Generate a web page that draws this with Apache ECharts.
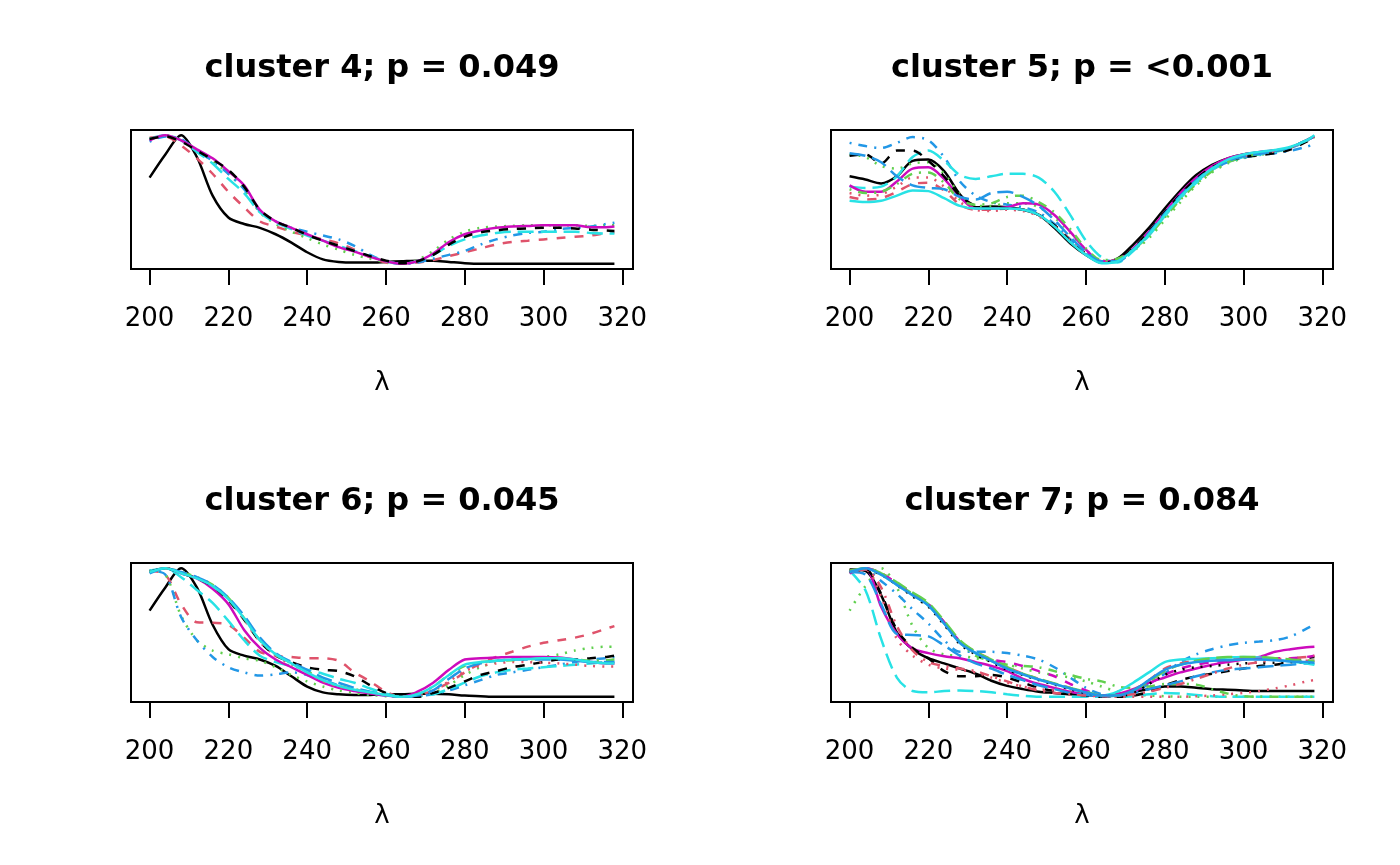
<!DOCTYPE html>
<html><head><meta charset="utf-8">
<script src="https://cdn.jsdelivr.net/npm/echarts@6/dist/echarts.min.js"></script>
<style>html,body{margin:0;padding:0;background:#fff}#c{width:1400px;height:865px}</style>
</head><body><div id="c"></div>
<script>
// wavelength grid (nm)
const xs = [200,204,208,212,216,220,224,228,232,236,240,244,248,252,256,260,264,268,272,276,280,284,288,292,296,300,304,308,312,316,318];
const tickValues = [200,220,240,260,280,300,320];
const titles = ['cluster 4; p = 0.049','cluster 5; p = <0.001','cluster 6; p = 0.045','cluster 7; p = 0.084'];
const xName = 'λ';

// cluster 4
const c4_1 = [.67,.85,1.0,.83,.53,.36,.31,.28,.23,.165,.09,.035,.015,.01,.01,.015,.02,.025,.025,.015,.005,0,0,0,0,0,0,0,0,0,0];
const c4_2 = [.98,.99,.92,.82,.70,.56,.44,.33,.29,.25,.22,.19,.16,.11,.05,.01,0,.01,.03,.06,.09,.12,.15,.17,.18,.19,.20,.21,.22,.24,.245];
const c4_3 = [.97,1.0,.96,.88,.80,.70,.58,.40,.31,.25,.20,.15,.11,.07,.04,.015,0,.03,.10,.19,.25,.28,.29,.295,.30,.30,.30,.30,.295,.30,.30];
const c4_4 = [.95,.99,.97,.88,.80,.70,.58,.41,.33,.28,.25,.22,.19,.14,.07,.02,0,.01,.04,.07,.10,.15,.19,.22,.24,.25,.27,.28,.29,.31,.32];
const c4_5 = [.97,1.0,.96,.87,.78,.66,.55,.40,.32,.27,.22,.18,.14,.10,.06,.02,0,.02,.07,.14,.19,.22,.24,.25,.25,.25,.25,.25,.24,.235,.235];
const c4_6 = [.96,1.0,.96,.89,.82,.72,.61,.42,.33,.28,.23,.18,.13,.095,.055,.02,0,.02,.08,.17,.23,.26,.28,.29,.295,.30,.30,.30,.285,.285,.29];
const c4_7 = [.97,.99,.95,.88,.81,.73,.60,.42,.33,.28,.225,.18,.14,.10,.06,.025,.005,.02,.07,.15,.21,.245,.26,.27,.275,.28,.28,.275,.265,.26,.255];

// cluster 5
const c5_1 = [.68,.655,.625,.68,.80,.81,.72,.54,.44,.445,.44,.42,.38,.28,.16,.07,.01,.04,.15,.28,.43,.57,.69,.77,.82,.85,.865,.88,.905,.96,.99];
const c5_2 = [.52,.50,.51,.56,.62,.63,.57,.46,.42,.42,.43,.42,.38,.30,.19,.08,.01,.025,.11,.23,.38,.52,.64,.73,.79,.825,.85,.87,.90,.955,.985];
const c5_3 = [.85,.83,.76,.74,.78,.79,.70,.54,.45,.45,.47,.47,.44,.36,.24,.11,.025,.03,.10,.20,.34,.48,.61,.71,.78,.82,.845,.87,.90,.955,.985];
const c5_4 = [.94,.915,.90,.94,.985,.96,.83,.64,.53,.48,.46,.44,.40,.31,.19,.08,.01,.02,.11,.23,.38,.52,.64,.73,.79,.825,.845,.86,.88,.91,.93];
const c5_5 = [.60,.59,.60,.68,.83,.88,.80,.69,.66,.68,.70,.70,.67,.56,.38,.18,.05,.01,.10,.22,.37,.51,.63,.73,.79,.83,.85,.87,.90,.955,.99];
const c5_6 = [.61,.56,.56,.64,.74,.75,.66,.52,.43,.43,.44,.47,.46,.38,.25,.11,.02,.03,.12,.25,.40,.55,.67,.76,.82,.85,.87,.88,.905,.96,.99];
const c5_7 = [.84,.85,.78,.88,.88,.80,.68,.53,.45,.43,.43,.42,.38,.30,.18,.08,.01,.03,.12,.25,.40,.54,.66,.75,.80,.83,.845,.86,.89,.95,.98];
const c5_8 = [.55,.53,.54,.60,.67,.67,.60,.48,.42,.41,.42,.41,.37,.29,.18,.08,.01,.03,.11,.23,.38,.52,.64,.74,.80,.835,.855,.875,.905,.96,.99];
const c5_9 = [.58,.55,.56,.62,.70,.71,.63,.50,.46,.47,.52,.53,.48,.40,.27,.12,.03,.04,.11,.22,.36,.50,.62,.72,.79,.83,.855,.875,.905,.96,.99];
const c5_10 = [.86,.84,.79,.68,.61,.59,.58,.52,.50,.55,.56,.52,.45,.34,.21,.09,.02,.02,.11,.24,.39,.53,.65,.74,.80,.835,.855,.875,.905,.96,.99];
const c5_11 = [.49,.48,.49,.53,.57,.565,.51,.45,.43,.43,.43,.42,.38,.29,.17,.07,.005,.02,.11,.23,.38,.52,.64,.74,.81,.85,.87,.885,.91,.96,1.0];

// cluster 6
const c6_1 = [.67,.85,1.0,.85,.56,.37,.32,.29,.24,.16,.08,.035,.02,.015,.015,.02,.02,.025,.025,.02,.01,.005,0,0,0,0,0,0,0,0,0];
const c6_2 = [.98,.95,.72,.58,.575,.56,.46,.35,.32,.31,.30,.30,.28,.19,.12,.04,0,.01,.05,.11,.19,.26,.31,.35,.39,.42,.44,.46,.49,.53,.55];
const c6_3 = [.98,.95,.63,.44,.36,.33,.30,.28,.23,.17,.12,.08,.05,.03,.015,.005,0,.005,.03,.09,.17,.23,.27,.29,.30,.31,.33,.36,.38,.39,.39];
const c6_4 = [.98,.95,.62,.44,.31,.23,.19,.165,.175,.19,.17,.13,.09,.05,.025,.01,0,.005,.02,.05,.09,.13,.17,.19,.21,.23,.25,.27,.29,.30,.31];
const c6_5 = [.98,1.0,.93,.83,.73,.59,.44,.32,.27,.24,.21,.18,.14,.11,.065,.025,0,.005,.02,.06,.11,.16,.19,.21,.22,.23,.24,.25,.26,.27,.27];
const c6_6 = [.97,1.0,.96,.92,.84,.72,.52,.38,.29,.23,.17,.11,.07,.045,.025,.01,0,.04,.11,.21,.29,.30,.305,.31,.31,.31,.305,.29,.27,.26,.26];
const c6_7 = [.97,1.0,.96,.92,.86,.75,.60,.43,.32,.27,.23,.21,.20,.16,.09,.03,.005,0,.03,.07,.12,.17,.20,.23,.25,.27,.29,.29,.30,.31,.32];
const c6_8 = [.97,1.0,.96,.92,.86,.76,.60,.43,.32,.25,.19,.12,.08,.055,.035,.015,0,.01,.05,.12,.20,.24,.26,.27,.27,.265,.26,.25,.24,.235,.235];
const c6_9 = [.97,1.0,.97,.93,.87,.77,.61,.44,.33,.26,.20,.13,.085,.06,.035,.015,0,.02,.08,.17,.24,.27,.28,.285,.29,.30,.30,.29,.28,.285,.29];
const c6_10 = [.96,1.0,.97,.93,.87,.77,.63,.46,.34,.27,.21,.15,.11,.07,.04,.015,0,.01,.05,.14,.22,.26,.28,.29,.29,.29,.29,.28,.27,.27,.27];
const c6_11 = [.97,1.0,.96,.92,.86,.76,.61,.44,.33,.26,.19,.13,.085,.055,.035,.015,0,.02,.08,.17,.25,.27,.28,.29,.295,.30,.30,.29,.27,.26,.26];

// cluster 7
const c7_1 = [.99,.98,.79,.50,.37,.30,.26,.22,.18,.125,.085,.06,.04,.03,.02,.015,.01,.02,.04,.06,.08,.08,.07,.06,.055,.05,.045,.045,.045,.045,.045];
const c7_2 = [.97,1.0,.96,.88,.80,.72,.58,.43,.35,.29,.23,.18,.14,.10,.07,.04,.01,.01,.05,.13,.22,.26,.28,.29,.29,.30,.30,.295,.29,.28,.28];
const c7_3 = [.67,.86,1.0,.85,.55,.38,.33,.32,.30,.28,.25,.22,.19,.17,.15,.12,.08,.04,.02,.01,.005,0,0,0,0,0,0,0,0,0,0];
const c7_4 = [.97,.99,.90,.80,.68,.57,.44,.35,.35,.35,.34,.32,.29,.23,.15,.07,.02,.01,.04,.10,.18,.27,.33,.37,.40,.42,.43,.44,.47,.53,.56];
const c7_5 = [.98,.83,.45,.15,.045,.035,.045,.05,.045,.035,.02,.008,0,0,0,0,0,0,.005,.02,.03,.025,.015,.005,0,0,0,0,0,0,0];
const c7_6 = [.96,1.0,.70,.49,.375,.34,.315,.30,.27,.24,.20,.14,.10,.07,.04,.02,.005,.02,.06,.11,.15,.19,.22,.25,.27,.29,.31,.35,.37,.385,.39];
const c7_7 = [.98,.99,.80,.52,.38,.30,.20,.16,.16,.17,.15,.11,.07,.045,.025,.01,0,0,.01,.04,.09,.13,.16,.18,.20,.22,.24,.25,.27,.30,.31];
const c7_8 = [.98,.99,.78,.45,.32,.25,.22,.21,.19,.15,.11,.08,.06,.05,.04,.03,.01,0,0,0,0,0,.005,.01,.02,.03,.045,.065,.09,.12,.13];
const c7_9 = [.97,1.0,.96,.88,.80,.72,.58,.43,.32,.28,.25,.24,.23,.20,.17,.14,.12,.08,.07,.08,.10,.10,.095,.06,.025,.005,0,0,0,0,0];
const c7_10 = [.97,.95,.72,.49,.48,.47,.40,.32,.26,.22,.17,.13,.09,.06,.03,.015,.005,.01,.03,.06,.09,.12,.16,.19,.21,.22,.23,.24,.25,.26,.26];
const c7_11 = [.97,1.0,.95,.87,.79,.71,.57,.42,.34,.28,.22,.175,.135,.10,.065,.035,.01,.04,.11,.19,.27,.29,.295,.30,.305,.31,.305,.29,.275,.26,.25];
const c7_12 = [.97,1.0,.96,.88,.80,.72,.58,.43,.34,.29,.27,.24,.20,.16,.10,.05,.01,.01,.04,.10,.17,.22,.25,.27,.28,.29,.295,.30,.30,.31,.32];
const c7_13 = [.97,.99,.95,.87,.78,.70,.56,.41,.33,.27,.21,.17,.13,.095,.06,.03,.01,.005,.03,.10,.17,.21,.23,.24,.25,.26,.265,.265,.27,.27,.27];
const c7_14 = [.97,.99,.85,.55,.36,.27,.24,.22,.20,.16,.12,.08,.05,.03,.02,.01,.005,.01,.02,.04,.07,.10,.14,.18,.22,.25,.27,.29,.30,.31,.32];
const c7_15 = [.98,1.0,.96,.89,.81,.73,.59,.44,.35,.29,.23,.18,.14,.105,.07,.04,.01,.01,.05,.12,.20,.25,.28,.30,.31,.31,.31,.30,.29,.28,.28];
const c7_16 = [.97,1.0,.95,.87,.79,.71,.57,.42,.34,.28,.22,.175,.135,.10,.065,.035,.01,.01,.05,.13,.21,.25,.27,.28,.285,.29,.29,.285,.275,.27,.265];

const panels = [
  [c4_1,c4_2,c4_3,c4_4,c4_5,c4_6,c4_7],
  [c5_1,c5_2,c5_3,c5_4,c5_5,c5_6,c5_7,c5_8,c5_9,c5_10,c5_11],
  [c6_1,c6_2,c6_3,c6_4,c6_5,c6_6,c6_7,c6_8,c6_9,c6_10,c6_11],
  [c7_1,c7_2,c7_3,c7_4,c7_5,c7_6,c7_7,c7_8,c7_9,c7_10,c7_11,c7_12,c7_13,c7_14,c7_15,c7_16]
];

const COLORS = ['#000000','#DF536B','#61D04F','#2297E6','#28E2E5','#CD0BBC'];
const DASHES = ['solid',[9,9],[2,7],[2,7,9,7],[16,7]];
const FONT = 'DejaVu Sans';
const boxes = [{left:131,top:130},{left:831,top:130},{left:131,top:563},{left:831,top:563}];
const W = 502, H = 139;

const grid = [], xAxis = [], yAxis = [], series = [], title = [];
boxes.forEach((b,p)=>{
  grid.push({left:b.left, top:b.top, width:W, height:H, show:true, borderColor:'#000', borderWidth:2, backgroundColor:'transparent'});
  xAxis.push({
    gridIndex:p, type:'value', min:195.28, max:322.72,
    name:xName, nameLocation:'middle', nameGap:101,
    nameTextStyle:{fontFamily:FONT, fontSize:26, color:'#000'},
    axisLine:{show:false, onZero:false},
    axisTick:{show:true, inside:false, length:16, customValues:tickValues, lineStyle:{color:'#000', width:2}},
    axisLabel:{show:true, margin:37, customValues:tickValues, fontFamily:FONT, fontSize:26, color:'#000'},
    splitLine:{show:false}
  });
  yAxis.push({gridIndex:p, type:'value', min:-0.04, max:1.04, show:false, splitLine:{show:false}});
  title.push({
    text:titles[p], left:b.left + W/2, top:b.top - 61, padding:0,
    textAlign:'center', textVerticalAlign:'middle',
    textStyle:{fontFamily:FONT, fontSize:32, fontWeight:'bold', color:'#000'}
  });
  panels[p].forEach((arr,i)=>{
    series.push({
      type:'line', xAxisIndex:p, yAxisIndex:p,
      data: xs.map((x,k)=>[x, arr[k]]),
      showSymbol:false, symbol:'none', smooth:0.3, silent:true,
      lineStyle:{color:COLORS[i%6], width:2.5, type:DASHES[i%5]},
      emphasis:{disabled:true}
    });
  });
});

const chart = echarts.init(document.getElementById('c'), null, {renderer:'canvas'});
chart.setOption({animation:false, backgroundColor:'#fff', title, grid, xAxis, yAxis, series, tooltip:{show:false}});
</script>
</body></html>
